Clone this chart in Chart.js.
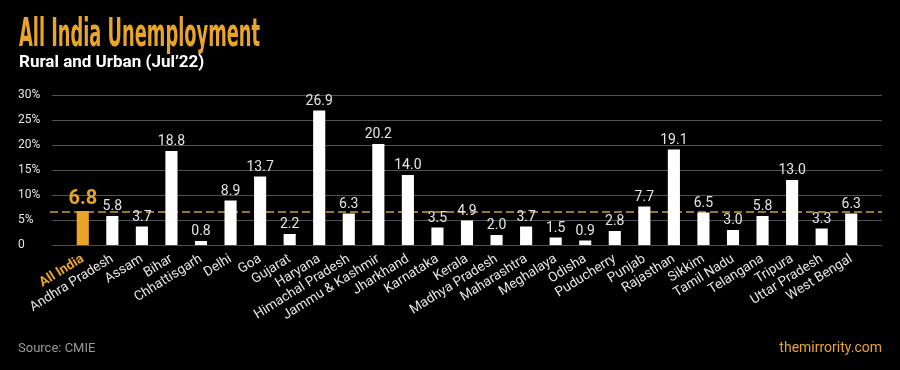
<!DOCTYPE html>
<html><head><meta charset="utf-8">
<script src="https://cdn.jsdelivr.net/npm/chart.js@4"></script>
<style>html,body{margin:0;padding:0;background:#000;}</style>
</head><body>
<canvas id="c" width="900" height="370"></canvas>
<script>
const states = ['All India','Andhra Pradesh','Assam','Bihar','Chhattisgarh','Delhi','Goa','Gujarat','Haryana','Himachal Pradesh','Jammu & Kashmir','Jharkhand','Karnataka','Kerala','Madhya Pradesh','Maharashtra','Meghalaya','Odisha','Puducherry','Punjab','Rajasthan','Sikkim','Tamil Nadu','Telangana','Tripura','Uttar Pradesh','West Bengal'];
const rates = [6.8,5.8,3.7,18.8,0.8,8.9,13.7,2.2,26.9,6.3,20.2,14.0,3.5,4.9,2.0,3.7,1.5,0.9,2.8,7.7,19.1,6.5,3.0,5.8,13.0,3.3,6.3];
const yTickValues = [0,5,10,15,20,25,30];
const allIndiaAverage = 6.8;
const titleText = 'All India Unemployment';
const subtitleText = 'Rural and Urban (Jul’22)';
const sourceText = 'Source: CMIE';
const brandText = 'themirrority.com';

const ORANGE = '#e9a528';
const WHITE = '#ffffff';
const LABEL = '#e4e4e4';

const decor = {
  id: 'decor',
  beforeDraw(chart) {
    const ctx = chart.ctx;
    ctx.save();
    ctx.fillStyle = '#000';
    ctx.fillRect(0, 0, chart.width, chart.height);
    ctx.font = 'bold 39px "Liberation Sans Narrow", "DejaVu Sans Condensed", sans-serif';
    const w = ctx.measureText(titleText).width;
    ctx.translate(19, 46);
    ctx.scale(241 / w, 1);
    ctx.fillStyle = ORANGE;
    ctx.textBaseline = 'alphabetic';
    ctx.textAlign = 'left';
    ctx.fillText(titleText, 0, 0);
    ctx.restore();
    ctx.save();
    ctx.font = 'bold 17px Roboto';
    ctx.fillStyle = WHITE;
    ctx.textBaseline = 'alphabetic';
    ctx.fillText(subtitleText, 19, 67);
    ctx.font = '13px Roboto';
    ctx.fillStyle = '#9a9a9a';
    ctx.fillText(sourceText, 18, 352);
    ctx.font = '14px Roboto';
    ctx.fillStyle = ORANGE;
    ctx.textAlign = 'right';
    ctx.fillText(brandText, 882, 352);
    ctx.restore();
  },
  beforeDatasetsDraw(chart) {
    const ctx = chart.ctx;
    const y = chart.scales.y;
    ctx.save();
    ctx.strokeStyle = '#505050';
    ctx.lineWidth = 1;
    yTickValues.forEach(v => {
      const py = Math.round(y.getPixelForValue(v)) + 0.5;
      ctx.beginPath();
      ctx.moveTo(52, py);
      ctx.lineTo(882, py);
      ctx.stroke();
    });
    const ay = Math.round(y.getPixelForValue(allIndiaAverage)) + 1;
    ctx.strokeStyle = '#9c7526';
    ctx.lineWidth = 2;
    ctx.setLineDash([8, 4]);
    ctx.beginPath();
    ctx.moveTo(50, ay);
    ctx.lineTo(882, ay);
    ctx.stroke();
    ctx.restore();
  },
  afterDatasetsDraw(chart) {
    const ctx = chart.ctx;
    const meta = chart.getDatasetMeta(0);
    ctx.save();
    ctx.textAlign = 'center';
    ctx.textBaseline = 'alphabetic';
    meta.data.forEach((bar, i) => {
      const txt = rates[i].toFixed(1);
      if (i === 0) {
        ctx.font = 'bold 20px Roboto';
        ctx.fillStyle = ORANGE;
        ctx.fillText(txt, bar.x, bar.y - 7);
      } else {
        ctx.font = '14px Roboto';
        ctx.fillStyle = LABEL;
        ctx.fillText(txt, bar.x, bar.y - 6);
      }
    });
    ctx.restore();
  }
};

new Chart(document.getElementById('c'), {
  type: 'bar',
  data: {
    labels: states,
    datasets: [{
      data: rates,
      backgroundColor: rates.map((v, i) => i === 0 ? ORANGE : WHITE),
      borderWidth: 0,
      barPercentage: 0.82,
      categoryPercentage: 0.5
    }]
  },
  options: {
    responsive: false,
    animation: false,
    devicePixelRatio: 1,
    layout: { padding: { left: 18, right: 34, top: 95, bottom: 25 } },
    plugins: { legend: { display: false }, tooltip: { enabled: false }, title: { display: false } },
    scales: {
      x: {
        grid: { display: false, drawTicks: false },
        border: { display: false },
        ticks: {
          autoSkip: false,
          maxRotation: 32,
          minRotation: 32,
          padding: 6,
          color: ctx => ctx.index === 0 ? ORANGE : LABEL,
          font: ctx => ctx.index === 0 ? { family: 'Roboto', size: 13.5, weight: 'bold' } : { family: 'Roboto', size: 13.5 }
        },
        afterFit(scale) { scale.height = 100; }
      },
      y: {
        min: 0,
        max: 30,
        grid: { display: false, drawTicks: false },
        border: { display: false },
        ticks: {
          stepSize: 5,
          crossAlign: 'far',
          color: LABEL,
          font: { family: 'Roboto', size: 12 },
          callback: v => v === 0 ? '0' : v + '%'
        },
        afterFit(scale) { scale.width = 50; }
      }
    }
  },
  plugins: [decor]
});
</script>
</body></html>
